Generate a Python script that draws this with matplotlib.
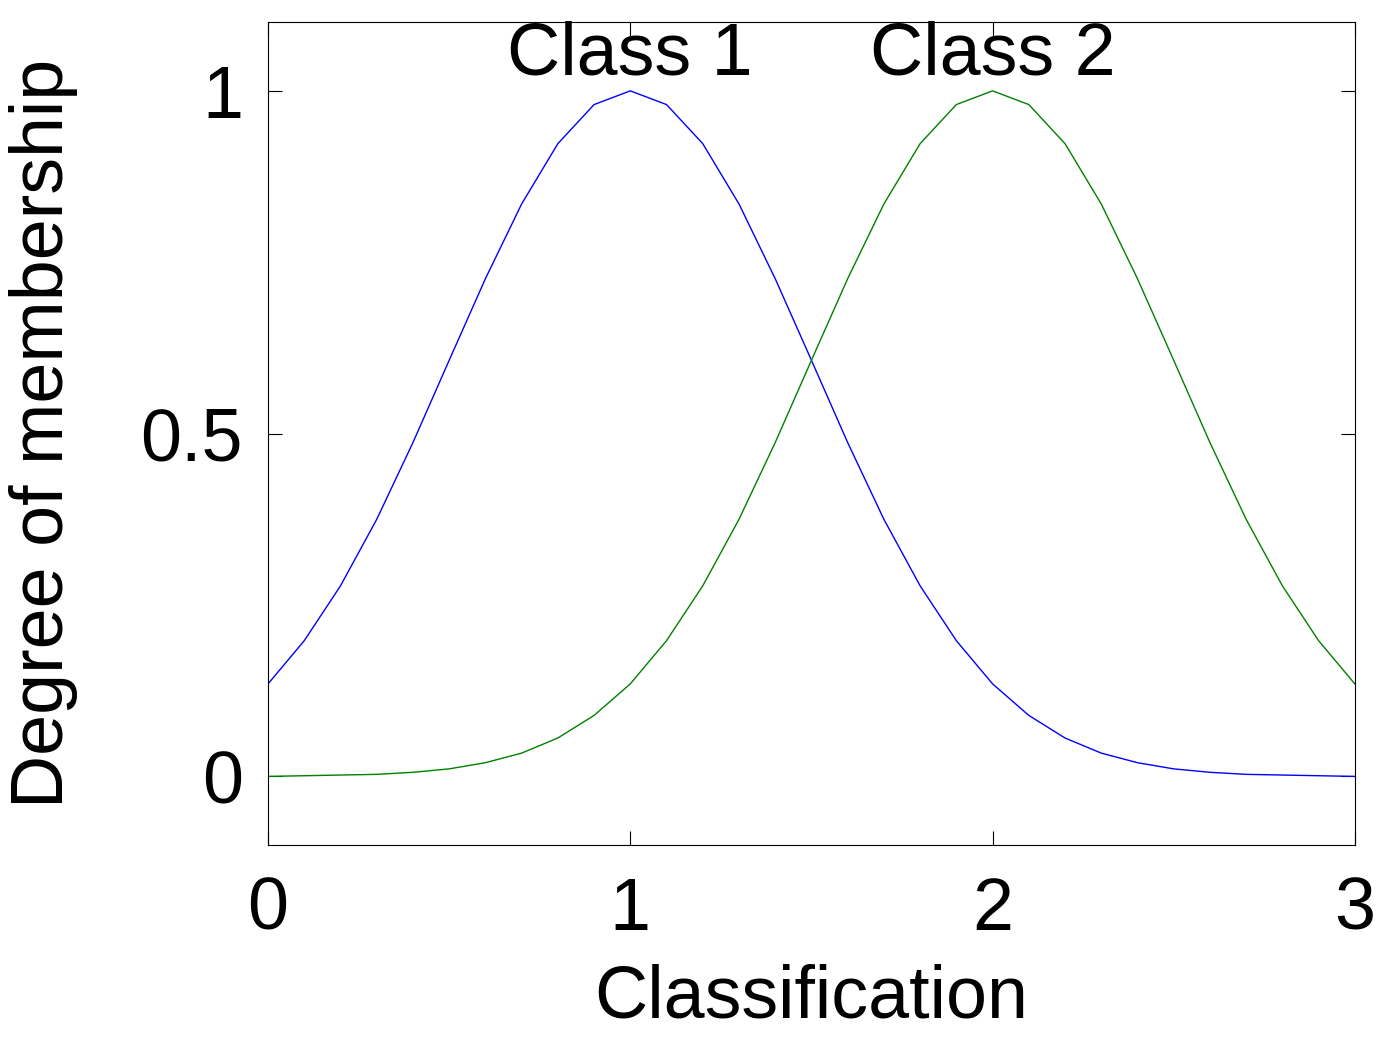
import matplotlib
matplotlib.use("Agg")
import matplotlib.pyplot as plt

plt.rcParams['font.family'] = ['Liberation Sans', 'DejaVu Sans']

# values, x step 0.1
x = [i / 10 for i in range(31)]
class1 = [0.135, 0.198, 0.278, 0.375, 0.487, 0.607, 0.726, 0.835, 0.923, 0.980,
          1.000, 0.980, 0.923, 0.835, 0.726, 0.607, 0.487, 0.375, 0.278, 0.198,
          0.135, 0.089, 0.056, 0.034, 0.020, 0.011, 0.006, 0.003, 0.002, 0.001, 0.000]
class2 = class1[::-1]
labels = ["Class 1", "Class 2"]
centers = [1, 2]

fig = plt.figure(figsize=(13.91, 10.52), dpi=100)
ax = fig.add_axes([0.1927, 0.1968, 0.7813, 0.782])
ax.plot(x, class1, color='blue', lw=1)
ax.plot(x, class2, color='green', lw=1)
for c, lab in zip(centers, labels):
    ax.text(c, 1.052, lab, ha='center', va='center', fontsize=53)

ax.set_xlim(0, 3)
ax.set_ylim(-0.1, 1.1)
ax.set_xticks([0, 1, 2, 3])
ax.set_yticks([0, 0.5, 1])
ax.set_yticklabels(['0', '0.5', '1'])
ax.tick_params(direction='in', length=10, labelsize=53, top=True, right=True)
ax.tick_params(axis='x', pad=22)
ax.tick_params(axis='y', pad=18)
ax.set_xlabel('Classification', fontsize=53, labelpad=14)
ax.set_ylabel('Degree of membership', fontsize=53, labelpad=45)
fig.savefig('out.png', dpi=100)
